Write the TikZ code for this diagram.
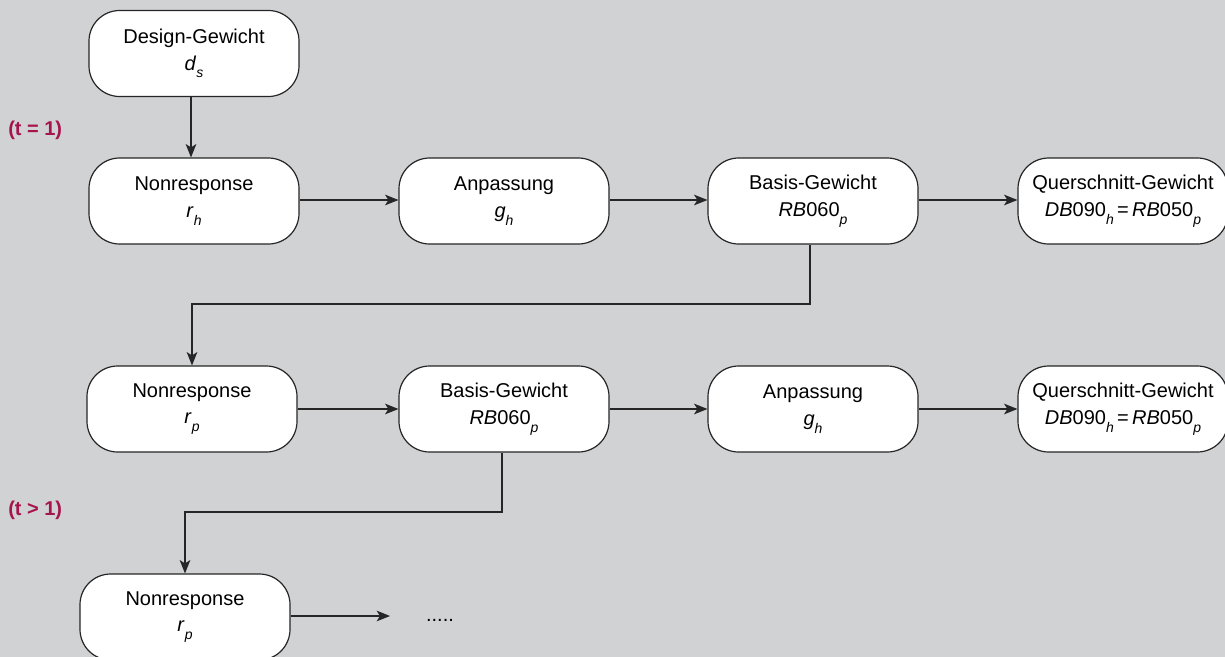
\documentclass[tikz,border=0pt]{standalone}
\usepackage{fontspec}
\setmainfont{Liberation Sans}
\usetikzlibrary{arrows.meta}
\definecolor{bgcol}{HTML}{D1D2D4}
\definecolor{labcol}{HTML}{A6144E}
\newcommand\lowsub[1]{\raisebox{-0.75ex}{\fontsize{10.5}{10.5}\selectfont\textit{#1}}}
\tikzset{
  box/.style={draw=black!85, line width=0.9pt, fill=white, rounded corners=23pt,
    minimum width=157.5pt, minimum height=64.5pt, inner sep=0pt,
    align=center, font=\fontsize{15}{20}\selectfont},
  conn/.style={draw=black!85, line width=0.9pt, -{Stealth[length=10pt,width=8pt,inset=2.5pt]}},
  tlab/.style={text=labcol, font=\fontsize{15}{16}\selectfont\bfseries, anchor=west, inner sep=0pt}
}
\begin{document}
\begin{tikzpicture}[x=0.75pt,y=-0.75pt]
\useasboundingbox (0,0) rectangle (1225,657);
\clip (0,0) rectangle (1225,657);
\fill[bgcol] (0,0) rectangle (1225,657);

\node[box] (ds) at (194,53.5) {Design-Gewicht\\\textit{d}\lowsub{s}};

\node[box] (nr1) at (194,201) {Nonresponse\\\textit{r}\lowsub{h}};
\node[box] (an1) at (504,201) {Anpassung\\\textit{g}\lowsub{h}};
\node[box] (bg1) at (813,201) {Basis-Gewicht\\\textit{RB}060\lowsub{p}};
\node[box] (qs1) at (1123,201) {Querschnitt-Gewicht\\\textit{DB}090\lowsub{h}\,=\,\textit{RB}050\lowsub{p}};

\node[box] (nr2) at (192,409) {Nonresponse\\\textit{r}\lowsub{p}};
\node[box] (bg2) at (504,409) {Basis-Gewicht\\\textit{RB}060\lowsub{p}};
\node[box] (an2) at (813,409) {Anpassung\\\textit{g}\lowsub{h}};
\node[box] (qs2) at (1123,409) {Querschnitt-Gewicht\\\textit{DB}090\lowsub{h}\,=\,\textit{RB}050\lowsub{p}};

\node[box] (nr3) at (185,617) {Nonresponse\\\textit{r}\lowsub{p}};
\node[font=\fontsize{15}{16}\selectfont, inner sep=0pt] (dots) at (440,620) {.....};
\coordinate (dotsin) at (390,616);

\node[tlab] (t1) at (8,130) {(t = 1)};
\node[tlab] (t2) at (8,510) {(t > 1)};

\draw[conn] (ds.south -| 191,0) -- (nr1.north -| 191,0);
\draw[conn] (nr1.east |- 0,200) -- (an1.west |- 0,200);
\draw[conn] (an1.east |- 0,200) -- (bg1.west |- 0,200);
\draw[conn] (bg1.east |- 0,200) -- (qs1.west |- 0,200);
\draw[conn] (bg1.south -| 810,0) -- (810,304) -- (192,304) -- (nr2.north -| 192,0);
\draw[conn] (nr2) -- (bg2);
\draw[conn] (bg2) -- (an2);
\draw[conn] (an2) -- (qs2);
\draw[conn] (bg2.south -| 502,0) -- (502,512) -- (185,512) -- (nr3.north -| 185,0);
\draw[conn] (nr3.east |- dotsin) -- (dotsin);
\end{tikzpicture}
\end{document}
